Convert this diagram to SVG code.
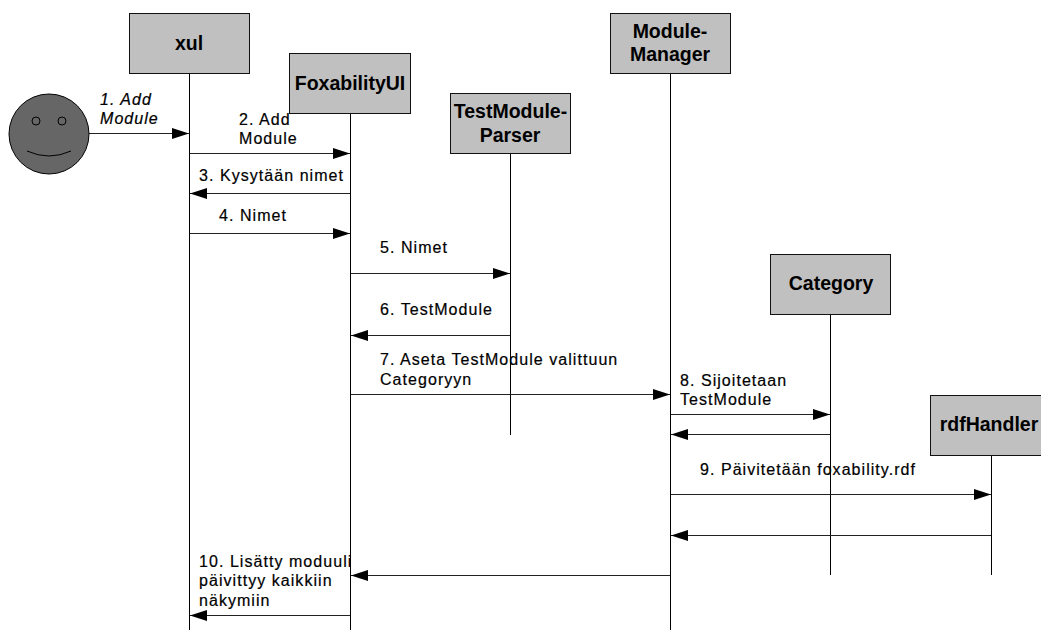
<svg xmlns="http://www.w3.org/2000/svg" width="1041" height="630" viewBox="0 0 1041 630">
<style>
.box{fill:#c0c0c0;stroke:#111;stroke-width:1}
.life{stroke:#000;stroke-width:1;fill:none}
.msg{stroke:#222;stroke-width:1;fill:none}
.t{font-family:"Liberation Sans",Arial,sans-serif;font-size:16px;fill:#000;letter-spacing:1.05px;stroke:#000;stroke-width:.2}
.n{font-family:"Liberation Sans",Arial,sans-serif;font-size:19.500px;font-weight:bold;fill:#000;text-anchor:middle}
</style>
<defs>
<marker id="a" markerUnits="userSpaceOnUse" markerWidth="17" markerHeight="12" refX="17" refY="5.500" orient="auto"><path d="M0 0L17 5.500L0 11Z" fill="#000"/></marker>
</defs>
<rect width="1041" height="630" fill="#fff"/>
<g id="connectors">
<path class="life" d="M189.500 74V630M350.500 114V630M510.500 154V435M670.500 74V630M830.500 315V575M991.500 456V575"/>
<path class="msg" marker-end="url(#a)" d="M89 133.500H189"/>
<path class="msg" marker-end="url(#a)" d="M190 153.500H350"/>
<path class="msg" marker-end="url(#a)" d="M350 193.500H190"/>
<path class="msg" marker-end="url(#a)" d="M190 233.500H350"/>
<path class="msg" marker-end="url(#a)" d="M351 273.500H510"/>
<path class="msg" marker-end="url(#a)" d="M510 335.500H351"/>
<path class="msg" marker-end="url(#a)" d="M351 394.500H670"/>
<path class="msg" marker-end="url(#a)" d="M671 414.500H830"/>
<path class="msg" marker-end="url(#a)" d="M830 434.500H671"/>
<path class="msg" marker-end="url(#a)" d="M671 494.500H991"/>
<path class="msg" marker-end="url(#a)" d="M991 535.500H671"/>
<path class="msg" marker-end="url(#a)" d="M670 575.500H351"/>
<path class="msg" marker-end="url(#a)" d="M350 615.500H190"/>
</g>
<g id="actor">
<circle cx="49" cy="134" r="40" fill="#666" stroke="#000"/>
<circle cx="36" cy="121" r="4" fill="#666" stroke="#000"/>
<circle cx="62" cy="121" r="4" fill="#666" stroke="#000"/>
<path d="M27 151Q49 161 71 151" fill="none" stroke="#000"/>
</g>
<g id="xul"><rect class="box" x="129.500" y="13.500" width="120" height="60"/><text class="n" x="189" y="50">xul</text></g>
<g id="foxabilityui"><rect class="box" x="289.500" y="53.500" width="121" height="60"/><text class="n" x="350" y="90">FoxabilityUI</text></g>
<g id="testmoduleparser"><rect class="box" x="450.500" y="93.500" width="120" height="60"/><text class="n" x="510.500" y="118">TestModule-</text><text class="n" x="510" y="142">Parser</text></g>
<g id="modulemanager"><rect class="box" x="610.500" y="13.500" width="120" height="60"/><text class="n" x="670" y="38">Module-</text><text class="n" x="670" y="61">Manager</text></g>
<g id="category"><rect class="box" x="770.500" y="254.500" width="120" height="60"/><text class="n" x="831" y="290">Category</text></g>
<g id="rdfhandler"><rect class="box" x="930.500" y="395.500" width="120" height="60"/><text class="n" x="989" y="431">rdfHandler</text></g>
<g id="labels">
<text class="t" x="100" y="105" font-style="italic">1. Add</text>
<text class="t" x="100" y="124" font-style="italic">Module</text>
<text class="t" x="239" y="125">2. Add</text>
<text class="t" x="239" y="144">Module</text>
<text class="t" x="199" y="181">3. Kysytään nimet</text>
<text class="t" x="219" y="221">4. Nimet</text>
<text class="t" x="380" y="253">5. Nimet</text>
<text class="t" x="380" y="315">6. TestModule</text>
<text class="t" x="380" y="365">7. Aseta TestModule valittuun</text>
<text class="t" x="380" y="385">Categoryyn</text>
<text class="t" x="680" y="386">8. Sijoitetaan</text>
<text class="t" x="680" y="405">TestModule</text>
<text class="t" x="700" y="475">9. Päivitetään foxability.rdf</text>
<text class="t" x="199" y="567">10. Lisätty moduuli</text>
<text class="t" x="199" y="586">päivittyy kaikkiin</text>
<text class="t" x="199" y="606">näkymiin</text>
</g>
</svg>
